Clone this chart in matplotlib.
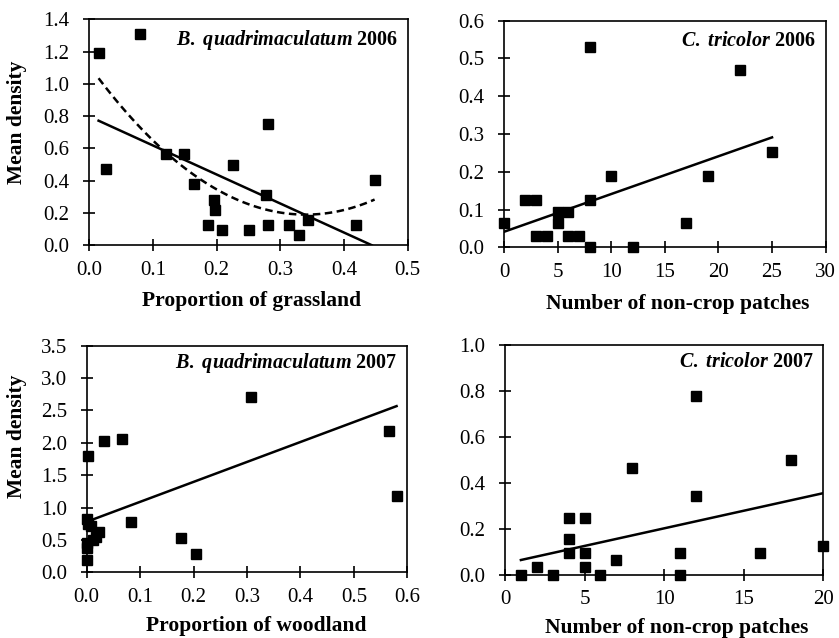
import numpy as np
import matplotlib
matplotlib.use('Agg')
import matplotlib.pyplot as plt

plt.rcParams['font.family'] = 'Liberation Serif'
plt.rcParams['mathtext.fontset'] = 'custom'
plt.rcParams['mathtext.it'] = 'Liberation Serif:italic:bold'
plt.rcParams['mathtext.rm'] = 'Liberation Serif:bold'

# --- data ---
# B. quadrimaculatum 2006 vs proportion of grassland
bq06_x = [0.015, 0.080, 0.027, 0.121, 0.149, 0.165, 0.186, 0.196, 0.197, 0.208,
          0.226, 0.251, 0.280, 0.277, 0.280, 0.314, 0.330, 0.343, 0.419, 0.448]
bq06_y = [1.19, 1.31, 0.47, 0.565, 0.565, 0.378, 0.126, 0.281, 0.219, 0.095,
          0.50, 0.095, 0.752, 0.314, 0.126, 0.126, 0.062, 0.157, 0.126, 0.405]
bq06_lin = [-1.80, 0.799]          # slope, intercept
bq06_quad = [8.0, -5.44, 1.115]    # a, b, c
bq06_xrange = [0.015, 0.4435]

# C. tricolor 2006 vs number of non-crop patches
ct06_x = [0, 2, 3, 3, 4, 5, 5, 6, 6, 7, 8, 8, 8, 10, 12, 17, 19, 22, 25]
ct06_y = [0.063, 0.125, 0.125, 0.031, 0.031, 0.094, 0.063, 0.094, 0.031, 0.031,
          0.531, 0.125, 0.0, 0.189, 0.0, 0.063, 0.189, 0.470, 0.251]
ct06_lin = [0.010, 0.041]
ct06_xrange = [0, 25]

# B. quadrimaculatum 2007 vs proportion of woodland
bq07_x = [0.002, 0.0, 0.002, 0.008, 0.0, 0.0, 0.001, 0.012, 0.017, 0.024,
          0.033, 0.066, 0.083, 0.177, 0.205, 0.308, 0.565, 0.580]
bq07_y = [1.79, 0.82, 0.75, 0.72, 0.46, 0.38, 0.19, 0.50, 0.54, 0.62,
          2.03, 2.06, 0.78, 0.53, 0.28, 2.71, 2.18, 1.18]
bq07_lin = [3.08, 0.78]
bq07_xrange = [0.003, 0.58]

# C. tricolor 2007 vs number of non-crop patches
ct07_x = [1, 2, 3, 4, 4, 4, 5, 5, 5, 6, 7, 8, 11, 11, 12, 12, 16, 18, 20]
ct07_y = [0.0, 0.033, 0.0, 0.25, 0.157, 0.094, 0.25, 0.094, 0.033, 0.0,
          0.065, 0.467, 0.094, 0.0, 0.778, 0.343, 0.094, 0.50, 0.126]
ct07_lin = [0.0153, 0.050]
ct07_xrange = [1, 20]

fig = plt.figure(figsize=(8.39, 6.38), dpi=100)

ax1 = fig.add_axes([0.1061, 0.6155, 0.3799, 0.3542])
ax2 = fig.add_axes([0.6007, 0.6124, 0.3834, 0.3552])
ax3 = fig.add_axes([0.1033, 0.1030, 0.3821, 0.3552])
ax4 = fig.add_axes([0.6019, 0.0987, 0.3794, 0.3605])


def style(ax, xlim, xticks, xfmt, ylim, yticks, yfmt, xlabel, title_it, title_year, title_y):
    ax.set_xlim(xlim)
    ax.set_ylim(ylim)
    ax.set_xticks(xticks)
    ax.set_yticks(yticks)
    ax.set_xticklabels([xfmt.format(v) for v in xticks])
    ax.set_yticklabels([yfmt.format(v) for v in yticks])
    ax.tick_params(direction='inout', length=8, width=1.2, labelsize=15)
    ax.tick_params(axis='x', pad=7)
    ax.tick_params(axis='y', pad=10)
    for s in ax.spines.values():
        s.set_linewidth(1.2)
    ax.set_xlabel(xlabel, fontsize=15.5, fontweight='bold')
    ax.text(0.97, title_y, r'$\it{' + title_it.replace(' ', r'\ ') + r'}$' + ' ' + title_year,
            transform=ax.transAxes, ha='right', va='center', fontsize=14.5, fontweight='bold')


def scatter(ax, x, y):
    ax.plot(x, y, 's', color='black', ms=7.8, zorder=3, clip_on=False)


def trend(ax, coef, xr, **kw):
    xs = np.linspace(xr[0], xr[1], 100)
    ax.plot(xs, np.polyval(coef, xs), color='black', lw=1.8, zorder=2, **kw)


# panel 1
scatter(ax1, bq06_x, bq06_y)
trend(ax1, bq06_lin, bq06_xrange)
trend(ax1, bq06_quad, [0.015, 0.448], dashes=(3, 1.8))
style(ax1, (0, 0.5), np.arange(0, 0.51, 0.1), '{:.1f}', (0, 1.4), np.arange(0, 1.41, 0.2), '{:.1f}',
      'Proportion of grassland', 'B. quadrimaculatum', '2006', 0.91)
ax1.set_ylabel('Mean density', fontsize=15.5, fontweight='bold')
ax1.yaxis.set_label_coords(-0.1936, 0.543)
ax1.xaxis.set_label_coords(0.51, -0.204)

# panel 2
scatter(ax2, ct06_x, ct06_y)
trend(ax2, ct06_lin, ct06_xrange)
style(ax2, (0, 30), np.arange(0, 31, 5), '{:.0f}', (0, 0.6), np.arange(0, 0.61, 0.1), '{:.1f}',
      'Number of non-crop patches', 'C. tricolor', '2006', 0.91)
ax2.xaxis.set_label_coords(0.54, -0.204)

# panel 3
scatter(ax3, bq07_x, bq07_y)
trend(ax3, bq07_lin, bq07_xrange)
style(ax3, (0, 0.6), np.arange(0, 0.61, 0.1), '{:.1f}', (0, 3.5), np.arange(0, 3.51, 0.5), '{:.1f}',
      'Proportion of woodland', 'B. quadrimaculatum', '2007', 0.925)
ax3.set_ylabel('Mean density', fontsize=15.5, fontweight='bold')
ax3.yaxis.set_label_coords(-0.185, 0.598)
ax3.xaxis.set_label_coords(0.53, -0.195)

# panel 4
scatter(ax4, ct07_x, ct07_y)
trend(ax4, ct07_lin, ct07_xrange)
style(ax4, (0, 20), np.arange(0, 21, 5), '{:.0f}', (0, 1.0), np.arange(0, 1.01, 0.2), '{:.1f}',
      'Number of non-crop patches', 'C. tricolor', '2007', 0.925)
ax4.xaxis.set_label_coords(0.54, -0.185)

fig.savefig('out.png', dpi=100)
